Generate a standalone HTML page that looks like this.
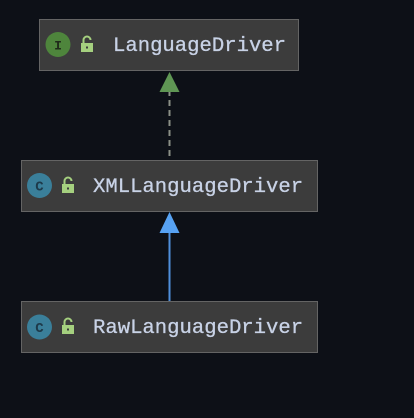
<!DOCTYPE html>
<html><head><style>html,body{margin:0;padding:0;background:#0d1017;}svg{display:block}</style></head>
<body>
<svg width="414" height="418" viewBox="0 0 414 418" xmlns="http://www.w3.org/2000/svg">
<rect width="414" height="418" fill="#0d1017"/>
<defs>
<g id="lock">
<path d="M-3.5,-2 V-5 A3.5,3.5 0 0 1 3.5,-5" fill="none" stroke="#a5d07f" stroke-width="2"/>
<rect x="-6" y="-2" width="12" height="9" fill="#a5d07f"/>
<rect x="-1" y="1.5" width="2" height="2" fill="#3c3c3c"/>
</g>
</defs>
<line x1="169.5" y1="90" x2="169.5" y2="160" stroke="#8a8f86" stroke-width="2" stroke-dasharray="6,4"/>
<polygon points="169.5,72 159.5,92 179.5,92" fill="#5f9654"/>
<line x1="169.5" y1="230" x2="169.5" y2="301" stroke="#4f8fdb" stroke-width="2"/>
<polygon points="169.5,212 159.5,233 179.5,233" fill="#57a2f3"/>
<g font-family="'Liberation Mono', monospace" font-size="20.6" fill="#c8d2e6" stroke="#c8d2e6" stroke-width="0.3">
<rect x="39.5" y="19.5" width="259" height="51" fill="#3c3c3c" stroke="#646464" stroke-width="1"/>
<circle cx="58" cy="44.5" r="12.5" fill="#4e853c" stroke="none"/>
<text x="58" y="49.5" font-size="13" text-anchor="middle" fill="#1f2a1a" stroke="none" font-weight="bold">I</text>
<use href="#lock" x="87" y="45" stroke="none"/>
<text x="113" y="51">LanguageDriver</text>

<rect x="21.5" y="160.5" width="296" height="51" fill="#3c3c3c" stroke="#646464" stroke-width="1"/>
<circle cx="39.5" cy="185.5" r="12.5" fill="#3a7f9a" stroke="none"/>
<text x="39.5" y="190.5" font-size="14" text-anchor="middle" fill="#1d3a4a" stroke="none" font-weight="bold">C</text>
<use href="#lock" x="68" y="186" stroke="none"/>
<text x="93" y="192">XMLLanguageDriver</text>

<rect x="21.5" y="301.5" width="296" height="51" fill="#3c3c3c" stroke="#646464" stroke-width="1"/>
<circle cx="39.5" cy="327" r="12.5" fill="#3a7f9a" stroke="none"/>
<text x="39.5" y="332" font-size="14" text-anchor="middle" fill="#1d3a4a" stroke="none" font-weight="bold">C</text>
<use href="#lock" x="68" y="327" stroke="none"/>
<text x="93" y="333">RawLanguageDriver</text>
</g>
</svg>
</body></html>
